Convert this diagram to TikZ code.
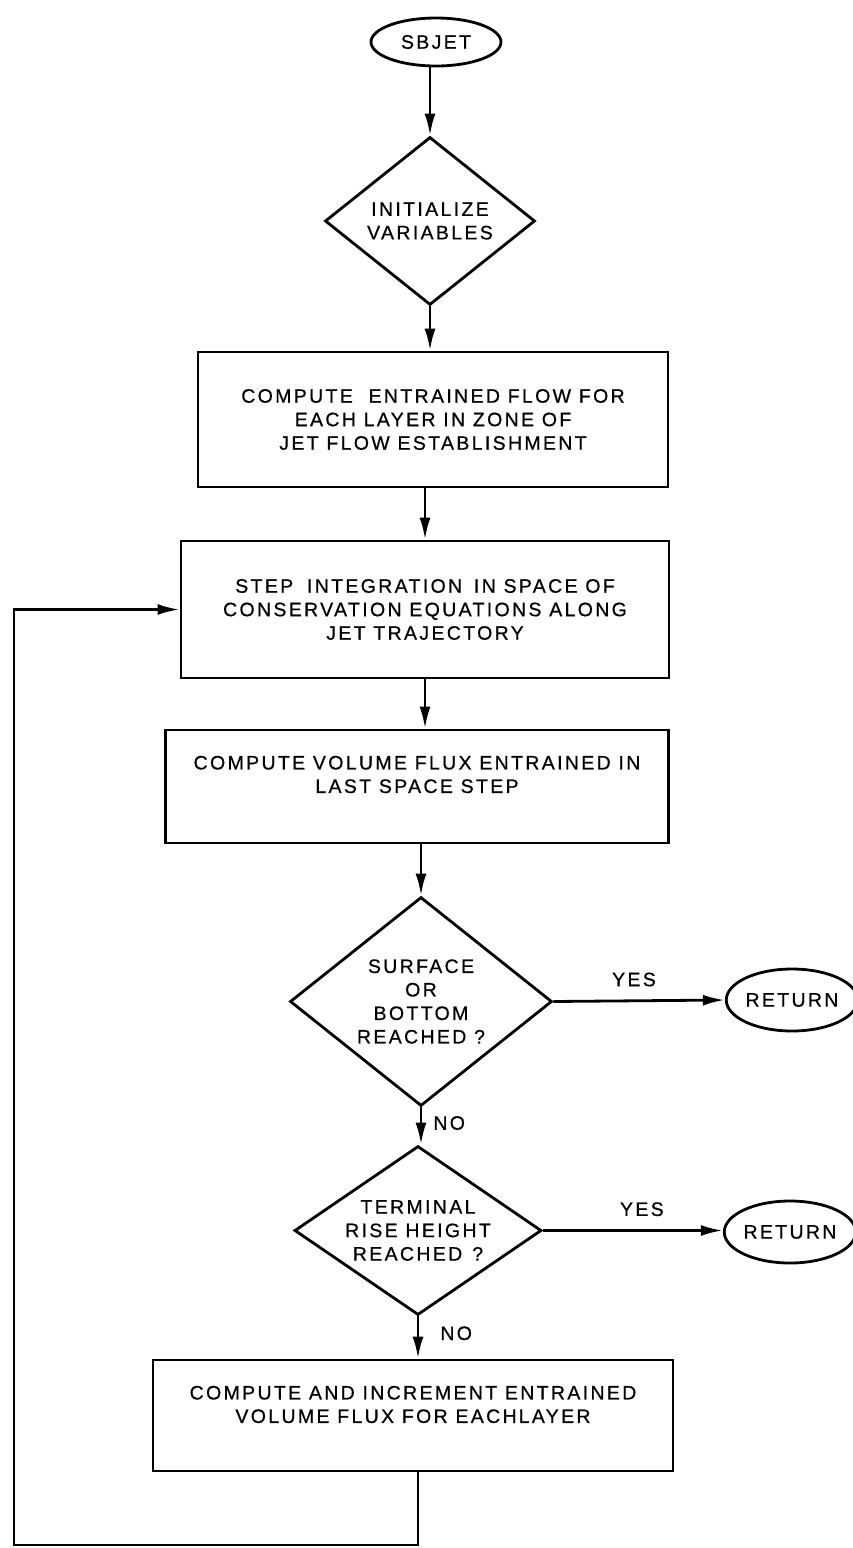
\documentclass[tikz,border=0pt]{standalone}
\usepackage{fontspec}
\setmainfont[LetterSpace=12,FakeBold=0.6]{Liberation Sans}
\usetikzlibrary{shapes.geometric,arrows.meta}
\begin{document}
\begin{tikzpicture}[x=1pt,y=-1pt,
  every node/.style={font=\fontsize{19.5}{23.5}\selectfont},
  box/.style={draw, line width=2.8pt, rectangle, inner sep=0pt, align=center},
  oval/.style={draw, line width=2.8pt, ellipse, inner sep=0pt, minimum width=130pt},
  dia/.style={draw, line width=2.8pt, diamond, inner sep=0pt, align=center},
  arr/.style={line width=2.8pt, -{Latex[length=22pt,width=11pt]}},
  lab/.style={inner sep=1pt}
]
\fill[white] (0,0) rectangle (853,1548);
\useasboundingbox (0,0) rectangle (853,1548);

\node[oval, minimum height=48pt] (sbjet) at (436,42) {SBJET};
\node[dia, minimum width=210pt, minimum height=168pt] (init) at (430,221) {INITIALIZE\\VARIABLES};
\node[box, minimum width=470pt, minimum height=135pt] (b1) at (433,419.5)
  {COMPUTE\hspace{8pt} ENTRAINED FLOW FOR\\EACH LAYER IN ZONE OF\\JET FLOW ESTABLISHMENT};
\node[box, minimum width=488pt, minimum height=137pt] (b2) at (425,609.5)
  {STEP\hspace{6pt} INTEGRATION\hspace{4pt} IN SPACE OF\\CONSERVATION EQUATIONS ALONG\\JET TRAJECTORY};
\node[box, minimum width=503pt, minimum height=113pt] (b3) at (417,786.5)
  {\raisebox{10pt}[\height][\depth]{\begin{tabular}{@{}c@{}}COMPUTE VOLUME FLUX ENTRAINED IN\\LAST SPACE STEP\end{tabular}}};
\node[dia, minimum width=262pt, minimum height=209pt, aspect=1.25] (d2) at (421,1001.5)
  {SURFACE\\OR\\BOTTOM\\REACHED ?};
\node[oval, minimum height=62pt] (r1) at (792,1000) {RETURN};
\node[dia, minimum width=247pt, minimum height=169pt, aspect=1.46] (d3) at (418,1230.5)
  {TERMINAL\\RISE HEIGHT\\REACHED\hspace{10pt}?};
\node[oval, minimum height=62pt] (r2) at (790,1232) {RETURN};
\node[box, minimum width=520pt, minimum height=111pt] (b4) at (413,1415.5)
  {\raisebox{9pt}[\height][\depth]{\begin{tabular}{@{}c@{}}COMPUTE AND INCREMENT ENTRAINED\\VOLUME FLUX FOR EACH\hspace{2pt}LAYER\end{tabular}}};

\coordinate (lp) at (14,1545);

\draw[arr] (init.north |- sbjet.south) -- (init.north);
\draw[arr] (init.south) -- (init.south |- b1.north);
\draw[arr] (b2.north |- b1.south) -- (b2.north);
\draw[arr] (b2.south) -- (b2.south |- b3.north);
\draw[arr] (d2.north |- b3.south) -- (d2.north);
\draw[arr] (d2.south) -- (d2.south |- d3.north) node[lab, right=10pt, pos=0.42] {NO};
\draw[arr] (d3.south) -- (d3.south |- b4.north) node[lab, right=20pt, pos=0.4] {NO};
\draw[arr] (d2.east) -- (r1.west) node[lab, above=12pt, pos=0.47] {YES};
\draw[arr] (d3.east) -- (d3.east -| r2.west) node[lab, above=12pt, pos=0.55] {YES};
\draw[arr] (d3.south |- b4.south) |- (lp) |- (b2.west);
\end{tikzpicture}
\end{document}
